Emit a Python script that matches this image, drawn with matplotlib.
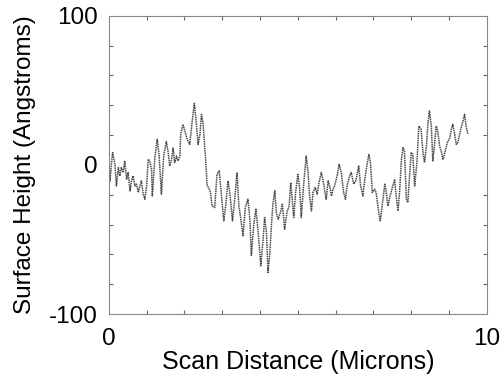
#!/usr/bin/env python
# -*- coding:utf-8 -*-
"""
Surface profile from a single scan line: height vs. scan distance.
"""

import numpy as np
from matplotlib import pyplot as plt
from matplotlib.ticker import MultipleLocator, FixedLocator

plt.rc("font", family=["Liberation Sans", "DejaVu Sans"])
plt.rc("axes", unicode_minus=False)

# Scan position (microns)
scanX = [0.00, 0.03, 0.07, 0.10, 0.16, 0.20, 0.25, 0.29, 0.33, 0.38,
	0.42, 0.47, 0.51, 0.56, 0.60, 0.64, 0.69, 0.73, 0.78, 0.82,
	0.86, 0.91, 0.95, 1.00, 1.04, 1.08, 1.13, 1.15, 1.22, 1.28,
	1.33, 1.39, 1.45, 1.52, 1.57, 1.61, 1.66, 1.70, 1.74, 1.79,
	1.83, 1.88, 1.90, 1.96, 2.01, 2.07, 2.14, 2.20, 2.26, 2.30,
	2.36, 2.41, 2.45, 2.49, 2.56, 2.60, 2.64, 2.69, 2.73, 2.80,
	2.86, 2.92, 2.98, 3.04, 3.09, 3.15, 3.20, 3.27, 3.33, 3.39,
	3.44, 3.48, 3.55, 3.61, 3.68, 3.73, 3.77, 3.83, 3.89, 3.95,
	4.02, 4.08, 4.12, 4.17, 4.21, 4.26, 4.30, 4.34, 4.39, 4.43,
	4.48, 4.54, 4.59, 4.65, 4.71, 4.77, 4.81, 4.85, 4.89, 4.94,
	5.00, 5.05, 5.09, 5.15, 5.22, 5.27, 5.31, 5.36, 5.40, 5.46,
	5.51, 5.56, 5.62, 5.67, 5.71, 5.75, 5.80, 5.84, 5.89, 5.93,
	5.97, 6.04, 6.09, 6.15, 6.21, 6.26, 6.30, 6.37, 6.41, 6.48,
	6.53, 6.56, 6.61, 6.66, 6.72, 6.77, 6.83, 6.88, 6.92, 6.97,
	7.03, 7.07, 7.14, 7.18, 7.23, 7.30, 7.34, 7.38, 7.44, 7.50,
	7.56, 7.60, 7.65, 7.69, 7.74, 7.78, 7.82, 7.87, 7.91, 7.96,
	8.00, 8.04, 8.09, 8.15, 8.20, 8.26, 8.31, 8.35, 8.40, 8.44,
	8.48, 8.53, 8.57, 8.62, 8.66, 8.70, 8.75, 8.79, 8.84, 8.88,
	8.93, 8.97, 9.01, 9.06, 9.10, 9.14, 9.19, 9.23, 9.28, 9.32,
	9.37, 9.41, 9.45, 9.50]

# Surface height (angstroms)
height = [1.6, -10.7, 1.6, 8.3, 0.4, -14.1, -1.8, -7.4, -1.8, -5.1,
	2.7, -9.6, -5.1, -17.4, -10.7, -7.4, -14.1, -12.9, -18.5, -14.1,
	-10.7, -19.6, -23.0, -14.1, 3.8, 2.7, -2.9, -20.8, 6.0, 17.2,
	6.0, -19.6, 6.0, 15.6, 8.3, -0.7, 3.8, 11.6, 1.6, 6.0,
	2.7, 6.0, 20.5, 27.2, 22.8, 17.2, 13.8, 28.3, 41.3, 31.7,
	13.8, 20.5, 33.9, 28.3, 3.8, -14.1, -15.2, -18.5, -27.5, -28.6,
	-6.3, -4.0, -20.8, -37.5, -27.5, -10.7, -18.5, -37.5, -23.0, -5.1,
	-27.5, -34.2, -47.5, -28.6, -23.0, -36.4, -60.7, -40.8, -29.7, -45.3,
	-67.6, -49.8, -35.3, -45.3, -72.1, -58.7, -40.8, -26.3, -17.4, -31.9,
	-36.4, -31.9, -26.3, -43.1, -31.9, -27.5, -11.8, -23.0, -35.3, -18.5,
	-6.3, -16.3, -35.3, -14.1, 6.0, -5.1, -20.8, -30.8, -18.5, -15.2,
	-19.6, -11.8, -5.1, -10.7, -17.4, -23.0, -10.7, -14.1, -20.8, -16.3,
	-14.1, -7.4, 0.4, -5.1, -18.5, -23.0, -14.1, -7.4, -5.1, -12.9,
	-10.7, -7.4, -0.7, -14.1, -20.8, -9.6, 0.4, 7.1, 1.6, -18.5,
	-16.3, -18.5, -31.9, -37.5, -27.5, -12.9, -18.5, -27.5, -20.8, -15.2,
	-9.6, -20.8, -30.8, -18.5, 3.8, 11.6, 9.4, -23.0, -25.2, -5.1,
	8.3, 7.1, -14.1, 1.6, 26.1, 23.9, 8.3, 1.6, 12.7, 27.2,
	36.2, 26.1, 2.7, 15.0, 26.1, 22.8, 12.7, 9.4, 3.8, 7.1,
	12.7, 16.1, 17.2, 23.9, 27.2, 21.7, 13.8, 15.0, 20.5, 25.0,
	29.5, 33.9, 26.1, 20.5]

fig = plt.figure(figsize=(5.04, 3.77), dpi=100)
ax = fig.add_axes([0.216, 0.167, 0.750, 0.791])

ax.plot(scanX, height, color="#4a4a4a", linewidth=1.1,
	linestyle=(0, (1.0, 0.5)))

ax.set_xlim(0, 10)
ax.set_ylim(-100, 100)
ax.xaxis.set_major_locator(FixedLocator([0, 10]))
ax.yaxis.set_major_locator(FixedLocator([-100, 0, 100]))
ax.xaxis.set_minor_locator(MultipleLocator(1))
ax.yaxis.set_minor_locator(MultipleLocator(20))

ax.tick_params(which="both", direction="in", top=True, right=True,
	color="#666666", width=0.8)
ax.tick_params(which="major", length=0, labelsize=17.5)
ax.tick_params(axis="y", which="major", pad=8)
ax.tick_params(axis="x", which="major", pad=10)
ax.tick_params(which="minor", length=3)

for sp in ax.spines.values():
	sp.set_color("#888888")
	sp.set_linewidth(0.8)
	sp.set_linestyle((0, (1, 1)))

ax.set_xlabel("Scan Distance (Microns)", fontsize=18, labelpad=0)
ax.set_ylabel("Surface Height (Angstroms)", fontsize=17.5, labelpad=9)

plt.savefig("out.png", dpi=100)
